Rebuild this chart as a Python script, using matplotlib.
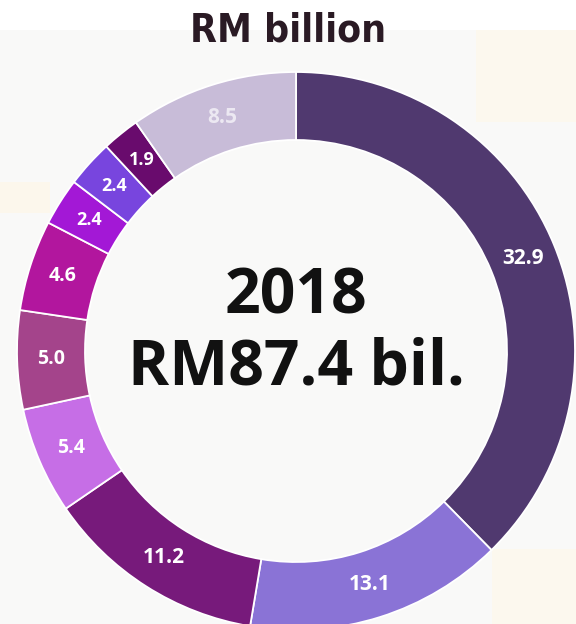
import matplotlib
matplotlib.use("Agg")
import matplotlib.pyplot as plt
from matplotlib.patches import Rectangle

values = [32.9, 13.1, 11.2, 5.4, 5.0, 4.6, 2.4, 2.4, 1.9, 8.5]
colors = ["#50396f", "#8a73d6", "#771a7b", "#c66ee6", "#a4448b",
          "#b2169e", "#a318d6", "#7845de", "#690b6d", "#c8bcd8"]
title = "RM billion"
center_lines = ["2018", "RM87.4 bil."]
total = sum(values)

W, H = 576, 624
fig = plt.figure(figsize=(W / 100, H / 100), dpi=100)
ax = fig.add_axes([0, 0, 1, 1])

# background panels
ax.add_patch(Rectangle((0, 0), W, H - 30, facecolor="#f9f9f8", edgecolor="none", zorder=0))
ax.add_patch(Rectangle((476, H - 122), 100, 92, facecolor="#fcf8ee", edgecolor="none", zorder=0))
ax.add_patch(Rectangle((0, H - 213), 50, 31, facecolor="#fcf7ec", edgecolor="none", zorder=0))
ax.add_patch(Rectangle((492, 0), 84, 75, facecolor="#fcf8ee", edgecolor="none", zorder=0))

cx, cy = 296, H - 351
R = 279
ring = 68

wedges, texts, autotexts = ax.pie(
    values, colors=colors, startangle=90, counterclock=False,
    center=(cx, cy), radius=R,
    wedgeprops=dict(width=ring, edgecolor="white", linewidth=1.3),
    autopct=lambda p: f"{p * total / 100:.1f}", pctdistance=1 - ring / 2 / R,
    textprops=dict(color="white", fontsize=15, fontweight="bold",
                   family=["Open Sans", "DejaVu Sans"]),
    frame=True,
)
ax.set_xlim(0, W)
ax.set_ylim(0, H)
ax.set_aspect("equal")
ax.axis("off")
for w in wedges:
    w.set_zorder(2)
for v, t in zip(values, autotexts):
    t.set_zorder(3)
    if v < 3:
        t.set_fontsize(13)
    elif v < 6:
        t.set_fontsize(14)
autotexts[-1].set_color("#ece8f2")

ax.text(288, H - 31, title, ha="center", va="center", fontsize=28,
        fontweight="bold", fontstretch="condensed", color="#2a1a24",
        family=["DejaVu Sans"])

ax.text(296, H - 297, center_lines[0], ha="center", va="center", fontsize=45,
        fontweight="bold", color="#111111", family=["Open Sans", "DejaVu Sans"])
ax.text(296, H - 368, center_lines[1], ha="center", va="center", fontsize=45,
        fontweight="bold", color="#111111", family=["Open Sans", "DejaVu Sans"])

fig.savefig("out.png", dpi=100, facecolor="white")
